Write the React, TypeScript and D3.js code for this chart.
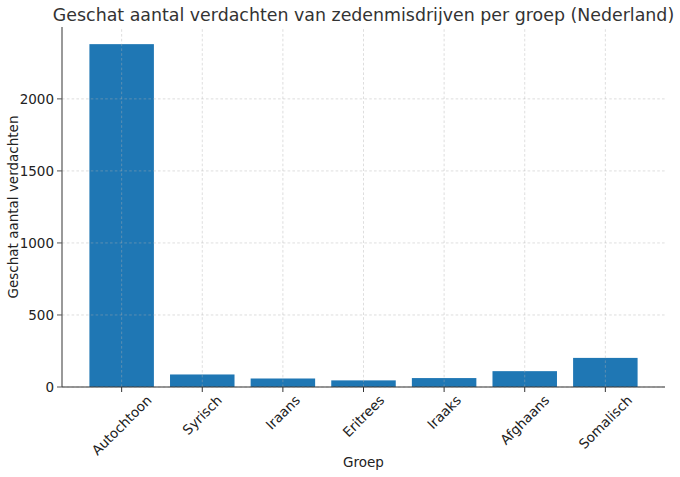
import React, { useEffect, useRef } from "react";
import * as d3 from "d3";

const categories = ["Autochtoon", "Syrisch", "Iraans", "Eritrees", "Iraaks", "Afghaans", "Somalisch"];
const values = [2380, 87, 59, 46, 62, 110, 202];
const yTicks = [0, 500, 1000, 1500, 2000];
const title = "Geschat aantal verdachten van zedenmisdrijven per groep (Nederland)";
const xLabel = "Groep";
const yLabel = "Geschat aantal verdachten";

const W = 680;
const H = 477;
const M = { left: 62, right: 15, top: 27, bottom: 90 };

export default function App() {
  const ref = useRef<SVGSVGElement | null>(null);

  useEffect(() => {
    const svg = d3.select(ref.current);
    svg.selectAll("*").remove();
    const font = "DejaVu Sans, sans-serif";
    const x0 = M.left, x1 = W - M.right, y0 = H - M.bottom, y1 = M.top;

    const n = categories.length;
    const lo = -0.4, hi = n - 1 + 0.4;
    const pad = (hi - lo) * 0.05;
    const x = d3.scaleLinear().domain([lo - pad, hi + pad]).range([x0, x1]);
    const maxV = d3.max(values) as number;
    const y = d3.scaleLinear().domain([0, maxV * 1.05]).range([y0, y1]);

    // bars
    svg.append("g").selectAll("rect").data(values).join("rect")
      .attr("x", (_d, i) => x(i - 0.4))
      .attr("width", x(0.4) - x(-0.4))
      .attr("y", (d) => y(d))
      .attr("height", (d) => y(0) - y(d))
      .attr("fill", "#1f77b4");

    // grid
    const grid = svg.append("g").attr("stroke", "#b0b0b0").attr("stroke-opacity", 0.6)
      .attr("stroke-width", 0.7).attr("stroke-dasharray", "2.6,2.2");
    grid.selectAll("line.gy").data(yTicks).join("line").attr("class", "gy")
      .attr("x1", x0).attr("x2", x1).attr("y1", (d) => y(d)).attr("y2", (d) => y(d));
    grid.selectAll("line.gx").data(categories).join("line").attr("class", "gx")
      .attr("x1", (_d, i) => x(i)).attr("x2", (_d, i) => x(i)).attr("y1", y0).attr("y2", y1);

    // spines
    svg.append("line").attr("x1", x0).attr("x2", x0).attr("y1", y0).attr("y2", y1)
      .attr("stroke", "#555").attr("stroke-width", 1.2);
    svg.append("line").attr("x1", x0).attr("x2", x1).attr("y1", y0).attr("y2", y0)
      .attr("stroke", "#333").attr("stroke-width", 1.2);

    // y ticks
    const yt = svg.append("g");
    yTicks.forEach((t) => {
      yt.append("line").attr("x1", x0 - 5).attr("x2", x0).attr("y1", y(t)).attr("y2", y(t))
        .attr("stroke", "#555").attr("stroke-width", 1);
      yt.append("text").attr("x", x0 - 8).attr("y", y(t)).attr("dy", "0.35em")
        .attr("text-anchor", "end").attr("font-family", font).attr("font-size", 13.5)
        .attr("fill", "#222").text(String(t));
    });

    // x ticks
    const xt = svg.append("g");
    categories.forEach((c, i) => {
      xt.append("line").attr("x1", x(i)).attr("x2", x(i)).attr("y1", y0).attr("y2", y0 + 5)
        .attr("stroke", "#333").attr("stroke-width", 1);
      const t = xt.append("text").attr("font-family", font).attr("font-size", 13.5)
        .attr("fill", "#222").attr("text-anchor", "middle").attr("dy", "0.35em").text(c);
      const node = t.node() as SVGTextElement;
      const L = node.getComputedTextLength();
      const h = 13.5;
      const half = (L + h) * Math.SQRT1_2 / 2;
      const cy = y0 + 6 + half;
      t.attr("transform", `translate(${x(i)},${cy}) rotate(-45)`);
    });

    // labels
    svg.append("text").attr("x", (x0 + x1) / 2).attr("y", 467).attr("text-anchor", "middle")
      .attr("font-family", font).attr("font-size", 13.5).attr("fill", "#222").text(xLabel);
    svg.append("text").attr("transform", `translate(18,${(y0 + y1) / 2}) rotate(-90)`)
      .attr("text-anchor", "middle").attr("font-family", font).attr("font-size", 13.5)
      .attr("fill", "#222").text(yLabel);
    svg.append("text").attr("x", (x0 + x1) / 2).attr("y", 21).attr("text-anchor", "middle")
      .attr("font-family", font).attr("font-size", 17.4).attr("fill", "#333").text(title);
  }, []);

  return (
    <svg ref={ref} width={W} height={H}
      style={{ position: "absolute", left: 0, top: 0, display: "block", background: "#fff" }} />
  );
}
